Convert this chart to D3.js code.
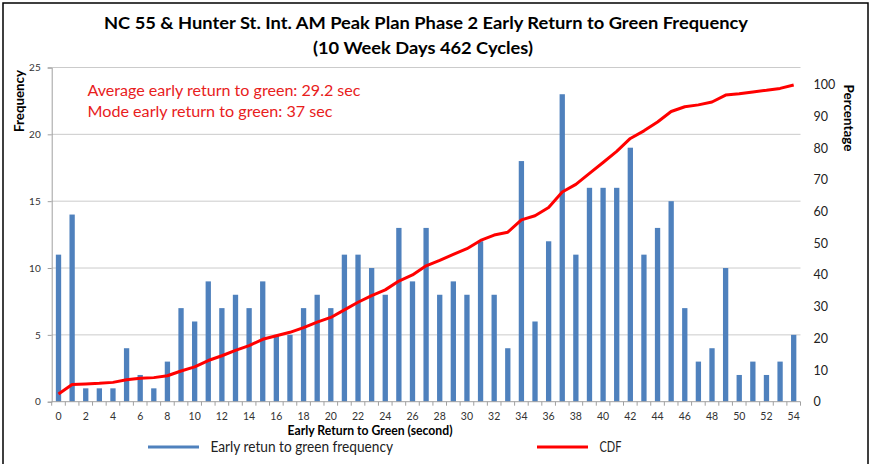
<!DOCTYPE html>
<html lang="en">
<head>
  <meta charset="UTF-8">
  <title>NC 55 & Hunter St. Int. AM Peak Plan Phase 2 Early Return to Green Frequency</title>
  <script src="https://d3js.org/d3.v7.min.js"></script>
  <style>
    body { margin: 0; background: #fff; }
    svg { font-family: Lato, "Open Sans", sans-serif; }
    .tick line { stroke: #a0a0a0; }
    .domain { stroke: #a0a0a0; }
  </style>
</head>
<body>
  <div id="chart"></div>

  <script>
    // Early return to green (seconds)
    const seconds = [0, 1, 2, 3, 4, 5, 6, 7, 8, 9, 10, 11, 12, 13, 14, 15, 16, 17, 18, 19,
      20, 21, 22, 23, 24, 25, 26, 27, 28, 29, 30, 31, 32, 33, 34, 35, 36, 37, 38, 39,
      40, 41, 42, 43, 44, 45, 46, 47, 48, 49, 50, 51, 52, 53, 54];

    // Frequency (bars, left axis)
    const frequency = [11, 14, 1, 1, 1, 4, 2, 1, 3, 7, 6, 9, 7, 8, 7, 9, 5, 5, 7, 8,
      7, 11, 11, 10, 8, 13, 9, 13, 8, 9, 8, 12, 8, 4, 18, 6, 12, 23, 11, 16,
      16, 16, 19, 11, 13, 15, 7, 3, 4, 10, 2, 3, 2, 3, 5];

    // CDF in percent (line, right axis)
    const cdf = [2.4, 5.4, 5.6, 5.8, 6.1, 6.9, 7.4, 7.6, 8.2, 9.7, 11.0, 13.0, 14.5, 16.2, 17.7, 19.7, 20.8, 21.9, 23.4, 25.1,
      26.6, 29.0, 31.4, 33.5, 35.3, 38.1, 40.0, 42.9, 44.6, 46.5, 48.3, 50.9, 52.6, 53.5, 57.4, 58.7, 61.3, 66.2, 68.6, 72.1,
      75.5, 79.0, 83.1, 85.5, 88.3, 91.6, 93.1, 93.7, 94.6, 96.8, 97.2, 97.8, 98.3, 98.9, 100];

    const freqTicks = [0, 5, 10, 15, 20, 25];
    const pctTicks = [0, 10, 20, 30, 40, 50, 60, 70, 80, 90, 100];

    const totalW = 878, totalH = 464;
    const margin = { top: 67.5, right: 77.5, bottom: 62.3, left: 51.7 };
    const width = totalW - margin.left - margin.right;
    const height = totalH - margin.top - margin.bottom;

    const svg = d3.select("#chart").append("svg")
      .attr("width", totalW)
      .attr("height", totalH);

    // outer frame
    svg.append("rect")
      .attr("x", 3).attr("y", 3)
      .attr("width", 865).attr("height", 480)
      .attr("fill", "none")
      .attr("stroke", "#000")
      .attr("stroke-width", 1.5);

    // stretch a text to a measured width (Calibri is narrower than the fonts we have)
    function fit(sel, w) {
      sel.attr("textLength", w).attr("lengthAdjust", "spacingAndGlyphs");
    }

    const g = svg.append("g")
      .attr("transform", "translate(" + margin.left + "," + margin.top + ")");

    const x = d3.scaleBand()
      .domain(seconds)
      .range([0, width])
      .paddingInner(0.61)
      .paddingOuter(0.305);

    const yL = d3.scaleLinear().domain([0, 25]).range([height, 0]);
    const yR = d3.scaleLinear().domain([0, 105.5]).range([height, 0]);

    // gridlines
    g.append("g")
      .selectAll("line")
      .data(freqTicks.filter(d => d > 0))
      .enter().append("line")
        .attr("x1", 0).attr("x2", width)
        .attr("y1", d => yL(d)).attr("y2", d => yL(d))
        .attr("stroke", "#cbcbcb")
        .attr("stroke-width", 1);

    // bars
    g.append("g")
      .selectAll("rect")
      .data(seconds)
      .enter().append("rect")
        .attr("x", (d, i) => x(d))
        .attr("y", (d, i) => yL(frequency[i]))
        .attr("width", x.bandwidth())
        .attr("height", (d, i) => yL(0) - yL(frequency[i]))
        .attr("fill", "#4f81bd");

    // left axis
    const leftAxis = g.append("g")
      .call(d3.axisLeft(yL).tickValues(freqTicks).tickSize(4).tickPadding(7));
    leftAxis.selectAll("text").attr("font-size", 10).attr("fill", "#333").attr("font-family", "Lato, sans-serif");

    // bottom axis: line + boundary ticks + even labels
    const step = x.step();
    const bottom = g.append("g").attr("transform", "translate(0," + height + ")");
    bottom.append("line")
      .attr("x1", 0).attr("x2", width)
      .attr("stroke", "#a0a0a0");
    bottom.selectAll(".bt")
      .data(seconds.concat(["end"]))
      .enter().append("line")
        .attr("class", "bt")
        .attr("x1", d => d === "end" ? width : x(d) - step * 0.305)
        .attr("x2", d => d === "end" ? width : x(d) - step * 0.305)
        .attr("y1", 0).attr("y2", 4)
        .attr("stroke", "#a0a0a0");
    bottom.selectAll(".bl")
      .data(seconds.filter(d => d % 2 === 0))
      .enter().append("text")
        .attr("class", "bl")
        .attr("x", d => x(d) + x.bandwidth() / 2)
        .attr("y", 18.5)
        .attr("text-anchor", "middle")
        .attr("font-size", 10.5)
        .attr("fill", "#333")
        .text(d => d);

    // right axis
    const rightAxis = g.append("g")
      .attr("transform", "translate(" + width + ",0)")
      .call(d3.axisRight(yR).tickValues(pctTicks).tickSize(0).tickPadding(13));
    rightAxis.select(".domain").remove();
    rightAxis.selectAll("text").attr("font-size", 12.5).attr("fill", "#222").attr("font-family", "Lato, sans-serif");

    // CDF line
    const line = d3.line()
      .x((d, i) => x(seconds[i]) + x.bandwidth() / 2)
      .y(d => yR(d));
    g.append("path")
      .datum(cdf)
      .attr("d", line)
      .attr("fill", "none")
      .attr("stroke", "#f00")
      .attr("stroke-width", 3)
      .attr("stroke-linejoin", "round");

    // title
    svg.append("text")
      .attr("x", 426).attr("y", 29)
      .attr("text-anchor", "middle")
      .attr("font-size", 17.5).attr("font-weight", "bold")
      .text("NC 55 & Hunter St. Int. AM Peak Plan Phase 2 Early Return to Green Frequency")
      .call(fit, 644);
    svg.append("text")
      .attr("x", 423).attr("y", 54)
      .attr("text-anchor", "middle")
      .attr("font-size", 17.5).attr("font-weight", "bold")
      .text("(10 Week Days 462 Cycles)")
      .call(fit, 220);

    // annotations
    svg.append("text")
      .attr("x", 87.5).attr("y", 96)
      .attr("font-size", 15.5).attr("fill", "#e8201c")
      .text("Average early return to green: 29.2 sec")
      .call(fit, 273);
    svg.append("text")
      .attr("x", 87.5).attr("y", 116.5)
      .attr("font-size", 15.5).attr("fill", "#e8201c")
      .text("Mode early return to green: 37 sec")
      .call(fit, 245);

    // axis titles
    svg.append("text")
      .attr("transform", "translate(23.5,101) rotate(-90)")
      .attr("text-anchor", "middle")
      .attr("font-size", 13).attr("font-weight", "bold")
      .text("Frequency")
      .call(fit, 62);
    svg.append("text")
      .attr("transform", "translate(843.5,118) rotate(90)")
      .attr("text-anchor", "middle")
      .attr("font-size", 13).attr("font-weight", "bold")
      .text("Percentage")
      .call(fit, 67);
    svg.append("text")
      .attr("x", 370).attr("y", 435)
      .attr("text-anchor", "middle")
      .attr("font-size", 12.5).attr("font-weight", "bold")
      .text("Early Return to Green (second)")
      .call(fit, 165);

    // legend
    const legend = [
      { label: "Early retun to green frequency", color: "#4f81bd", x: 148, w: 182.5 },
      { label: "CDF", color: "#f00", x: 537, w: 22 }
    ];
    const lg = svg.append("g").selectAll("g")
      .data(legend)
      .enter().append("g")
        .attr("transform", d => "translate(" + d.x + ",447)");
    lg.append("line")
      .attr("x1", 0).attr("x2", 51)
      .attr("stroke", d => d.color)
      .attr("stroke-width", 3);
    lg.append("text")
      .attr("x", 62.5).attr("y", 5)
      .attr("font-size", 14.5).attr("fill", "#222")
      .text(d => d.label)
      .each(function(d) { d3.select(this).call(fit, d.w); });
  </script>
</body>
</html>
